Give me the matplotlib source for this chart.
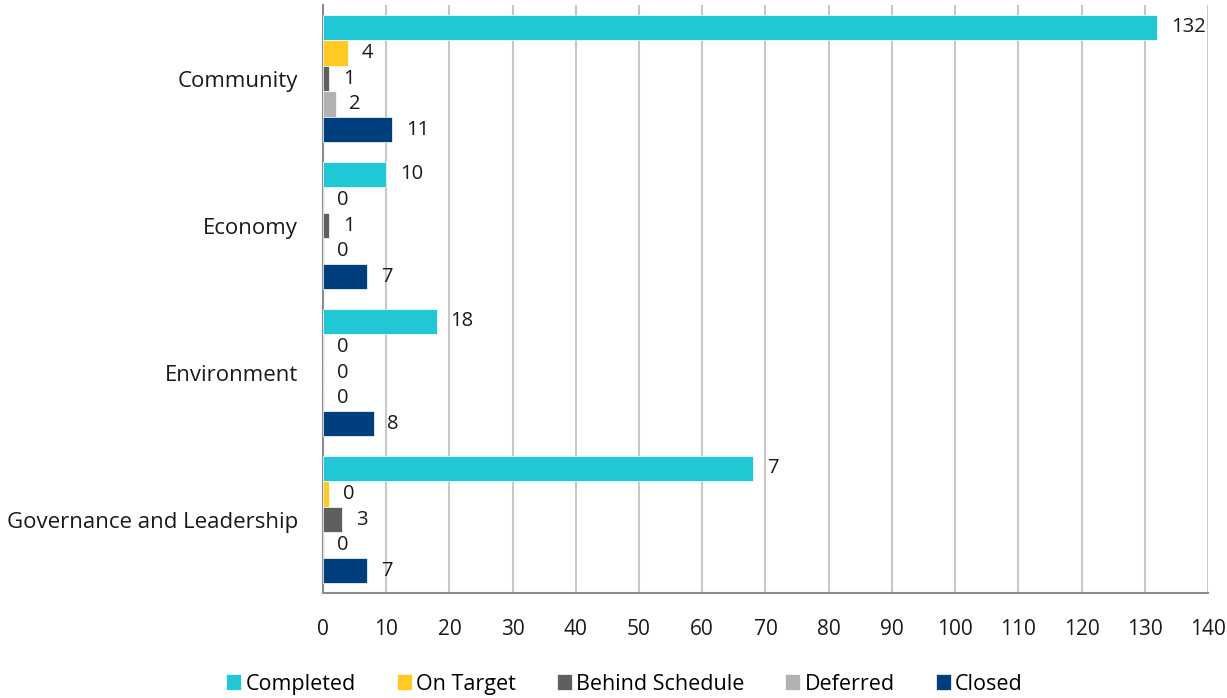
import numpy as np
import matplotlib.pyplot as plt

plt.rcParams["font.family"] = ["Open Sans", "DejaVu Sans"]

categories = ["Community", "Economy", "Environment", "Governance and Leadership"]
series = ["Completed", "On Target", "Behind Schedule", "Deferred", "Closed"]
colors = ["#22C7D6", "#FFC926", "#5F5F5F", "#B2B2B2", "#003F7D"]

completed = [132, 10, 18, 68]
on_target = [4, 0, 0, 1]
behind = [1, 1, 0, 3]
deferred = [2, 0, 0, 0]
closed = [11, 7, 8, 7]

# data labels as shown in the chart (not always equal to bar length)
completed_lbl = ["132", "10", "18", "7"]
on_target_lbl = ["4", "0", "0", "0"]
behind_lbl = ["1", "1", "0", "3"]
deferred_lbl = ["2", "0", "0", "0"]
closed_lbl = ["11", "7", "8", "7"]

values = [completed, on_target, behind, deferred, closed]
labels = [completed_lbl, on_target_lbl, behind_lbl, deferred_lbl, closed_lbl]

fig = plt.figure(figsize=(12.27, 6.98), dpi=100)
ax = fig.add_axes([0.2632, 0.1504, 0.7213, 0.8424])

y = np.arange(len(categories))
h = 0.174
for i, (name, vals, lbls, c) in enumerate(zip(series, values, labels, colors)):
    offs = (i - 2) * h
    bars = ax.barh(y + offs, vals, height=h, color=c, label=name,
                   edgecolor="white", linewidth=0.5, zorder=3)
    ax.bar_label(bars, labels=lbls, padding=10, fontsize=14.5, color="#1a1a1a")

ax.set_xlim(0, 140)
ax.set_ylim(3.5, -0.5)
ax.set_xticks(np.arange(0, 141, 10))
ax.set_yticks(y)
ax.set_yticklabels(categories)
ax.tick_params(axis="both", length=0, labelsize=15, colors="#1a1a1a")
ax.tick_params(axis="y", labelsize=16, pad=18)
ax.tick_params(axis="x", pad=19)

ax.grid(axis="x", color="#C8C8C8", linewidth=1.5, zorder=0)
ax.set_axisbelow(True)
for s in ["top", "right"]:
    ax.spines[s].set_visible(False)
ax.spines["left"].set_color("#8C8C8C")
ax.spines["left"].set_linewidth(1.5)
ax.spines["bottom"].set_color("#8C8C8C")
ax.spines["bottom"].set_linewidth(1.5)

fig.legend(loc="center", bbox_to_anchor=(0.509, 0.02), ncol=5, frameon=False,
           fontsize=15.5, handlelength=0.7, handleheight=0.7, handletextpad=0.2,
           columnspacing=1.9)

plt.savefig("out.png", dpi=100)
plt.close()
